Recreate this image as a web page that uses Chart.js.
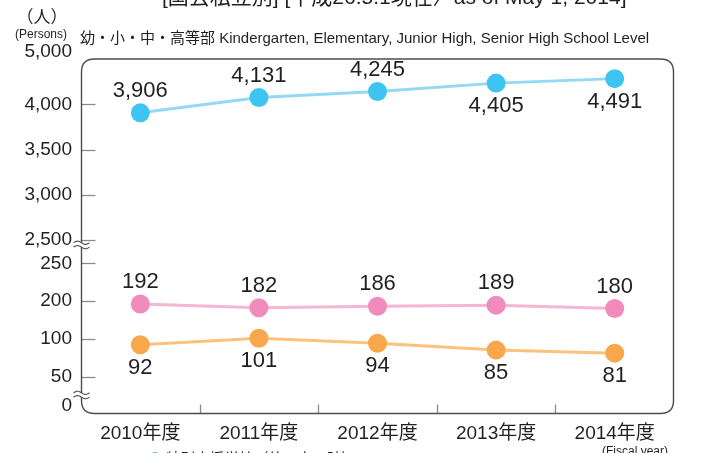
<!DOCTYPE html>
<html><head><meta charset="utf-8">
<script src="https://cdn.jsdelivr.net/npm/chart.js@4.4.1/dist/chart.umd.min.js"></script>
<style>html,body{margin:0;padding:0;background:#fff;}canvas{display:block;}</style>
</head><body>
<canvas id="c" width="702" height="453"></canvas>
<script>
// ---- data ----
const categories = ['2010年度','2011年度','2012年度','2013年度','2014年度'];
const studentsTotal = [3906, 4131, 4245, 4405, 4491];
const seriesPink = [192, 182, 186, 189, 180];
const seriesOrange = [92, 101, 94, 85, 81];
const yTickValues = [0, 50, 100, 200, 250, 2500, 3000, 3500, 4000, 5000];
// label placement: true = above point
const totalAbove = [true, true, true, false, false];
const pinkAbove = [true, true, true, true, true];
const orangeAbove = [false, false, false, false, false];

// ---- layout config (broken axis: fraction of plot height for each tick) ----
const yTickFrac = [0.0221, 0.1030, 0.2080, 0.3122, 0.4163, 0.4807, 0.6050, 0.7301, 0.8555, 1.0];
const breakFrac = [0.467, 0.0525];

const FONT = "'Liberation Sans', Arial, 'Noto Sans CJK JP', sans-serif";
const TXT = '#231f20';

class BrokenScale extends Chart.LinearScale {
  buildTicks() { return yTickValues.map(v => ({ value: v })); }
  getDecimalForValue(v) {
    const n = yTickValues.length;
    if (v <= yTickValues[0]) return yTickFrac[0];
    for (let i = 1; i < n; i++) {
      if (v <= yTickValues[i]) {
        const a = yTickValues[i - 1], b = yTickValues[i];
        return yTickFrac[i - 1] + (v - a) / (b - a) * (yTickFrac[i] - yTickFrac[i - 1]);
      }
    }
    return yTickFrac[n - 1];
  }
  getPixelForValue(v) { return this.getPixelForDecimal(this.getDecimalForValue(v)); }
  getPixelForTick(i) { return this.getPixelForValue(this.ticks[i].value); }
  getValueForPixel(p) {
    const d = this.getDecimalForPixel(p);
    for (let i = 1; i < yTickFrac.length; i++) {
      if (d <= yTickFrac[i]) {
        const f0 = yTickFrac[i - 1], f1 = yTickFrac[i];
        return yTickValues[i - 1] + (d - f0) / (f1 - f0) * (yTickValues[i] - yTickValues[i - 1]);
      }
    }
    return yTickValues[yTickValues.length - 1];
  }
}
BrokenScale.id = 'broken';
BrokenScale.defaults = Chart.LinearScale.defaults;
Chart.register(BrokenScale);

const framePlugin = {
  id: 'frame',
  beforeDatasetsDraw(chart) {
    const ctx = chart.ctx, a = chart.chartArea;
    const y = chart.scales.y, x = chart.scales.x;
    const L = a.left + 0.5, R = a.right - 0.5, T = a.top + 7, B = a.bottom - 0.5, r = 13;
    ctx.save();
    ctx.strokeStyle = '#8a8a8a'; ctx.lineWidth = 1.3;
    y.ticks.forEach(t => {
      if (t.value === 0 || t.value === 5000) return;
      const py = Math.round(y.getPixelForValue(t.value)) + 0.5;
      ctx.beginPath(); ctx.moveTo(L, py); ctx.lineTo(L + 14, py); ctx.stroke();
    });
    for (let i = 1; i < categories.length; i++) {
      const px = Math.round((x.getPixelForValue(i - 1) + x.getPixelForValue(i)) / 2) + 0.5;
      ctx.beginPath(); ctx.moveTo(px, B); ctx.lineTo(px, B - 9); ctx.stroke();
    }
    ctx.strokeStyle = '#4d4d4d'; ctx.lineWidth = 1.4;
    ctx.beginPath();
    ctx.moveTo(L + r, T); ctx.lineTo(R - r, T); ctx.quadraticCurveTo(R, T, R, T + r);
    ctx.lineTo(R, B - r); ctx.quadraticCurveTo(R, B, R - r, B);
    ctx.lineTo(L + r, B); ctx.quadraticCurveTo(L, B, L, B - r);
    ctx.lineTo(L, T + r); ctx.quadraticCurveTo(L, T, L + r, T);
    ctx.stroke();
    breakFrac.forEach(f => {
      const py = y.getPixelForDecimal(f);
      ctx.fillStyle = '#fff';
      ctx.fillRect(L - 7, py - 2, 14, 4);
      ctx.strokeStyle = '#4d4d4d'; ctx.lineWidth = 1.1;
      [-2.2, 2.2].forEach(o => {
        ctx.beginPath();
        for (let k = 0; k <= 16; k++) {
          const xx = L - 8 + k;
          const yy = py + o - 1.6 * Math.sin(k / 16 * Math.PI * 2);
          if (k === 0) ctx.moveTo(xx, yy); else ctx.lineTo(xx, yy);
        }
        ctx.stroke();
      });
    });
    ctx.restore();
  }
};

const labelPlugin = {
  id: 'labels',
  afterDatasetsDraw(chart) {
    const ctx = chart.ctx;
    const placements = [totalAbove, pinkAbove, orangeAbove];
    ctx.save();
    ctx.font = '22px ' + FONT;
    ctx.fillStyle = TXT;
    ctx.textAlign = 'center'; ctx.textBaseline = 'middle';
    chart.data.datasets.forEach((ds, di) => {
      const meta = chart.getDatasetMeta(di);
      meta.data.forEach((pt, i) => {
        const above = placements[di][i];
        const txt = ds.data[i].toLocaleString('en-US');
        ctx.fillText(txt, pt.x, pt.y + (above ? -22 : 23));
      });
    });
    ctx.restore();
  }
};

const textPlugin = {
  id: 'texts',
  afterDraw(chart) {
    const ctx = chart.ctx;
    ctx.save();
    ctx.fillStyle = TXT;
    ctx.textBaseline = 'alphabetic';
    ctx.textAlign = 'left';
    ctx.font = '21px ' + FONT;
    ctx.fillText('[国公私立別] [平成26.5.1現在〉as of May 1, 2014]', 162, 4, 529);
    ctx.textAlign = 'center';
    ctx.font = '17px ' + FONT;
    ctx.fillText('（人）', 42, 23);
    ctx.font = '12px ' + FONT;
    ctx.fillText('(Persons)', 41, 38, 62);
    ctx.textAlign = 'left';
    ctx.font = '15px ' + FONT;
    ctx.fillText('幼・小・中・高等部 Kindergarten, Elementary, Junior High, Senior High School Level', 80, 43, 606);
    ctx.textAlign = 'center';
    ctx.font = '12px ' + FONT;
    ctx.fillText('(Fiscal year)', 635, 455, 80);
    ctx.fillStyle = '#3ec4f0';
    ctx.beginPath(); ctx.arc(155, 458, 6, 0, Math.PI * 2); ctx.fill();
    ctx.fillStyle = TXT; ctx.textAlign = 'left';
    ctx.font = '17px ' + FONT;
    ctx.fillText('特別支援学校（幼～高・計）', 166, 466, 190);
    ctx.restore();
  }
};

function ds(data, line, point) {
  return {
    data, borderColor: line, backgroundColor: point, borderWidth: 3,
    pointBackgroundColor: point, pointBorderColor: point, pointRadius: 9.5,
    pointBorderWidth: 0, tension: 0, clip: false
  };
}

new Chart(document.getElementById('c'), {
  type: 'line',
  data: {
    labels: categories,
    datasets: [
      ds(studentsTotal, '#93d9f4', '#3ec4f0'),
      ds(seriesPink, '#f5b6d3', '#f08bbb'),
      ds(seriesOrange, '#fbc27f', '#f8a84b')
    ]
  },
  options: {
    responsive: false, animation: false, devicePixelRatio: 1,
    layout: { padding: { top: 52, right: 28, left: 0, bottom: 0 } },
    plugins: { legend: { display: false }, tooltip: { enabled: false } },
    scales: {
      x: {
        type: 'category', offset: true,
        grid: { display: false, drawTicks: false }, border: { display: false },
        ticks: { color: TXT, font: { family: FONT, size: 19 }, padding: 8, maxRotation: 0 },
        afterFit(s) { s.height = 39; }
      },
      y: {
        type: 'broken', min: 0, max: 5000,
        grid: { display: false, drawTicks: false }, border: { display: false },
        ticks: { color: TXT, font: { family: FONT, size: 19 }, padding: 9,
                 callback: v => Number(v).toLocaleString('en-US') },
        afterFit(s) { s.width = 81; }
      }
    }
  },
  plugins: [framePlugin, labelPlugin, textPlugin]
});
</script>
</body></html>
